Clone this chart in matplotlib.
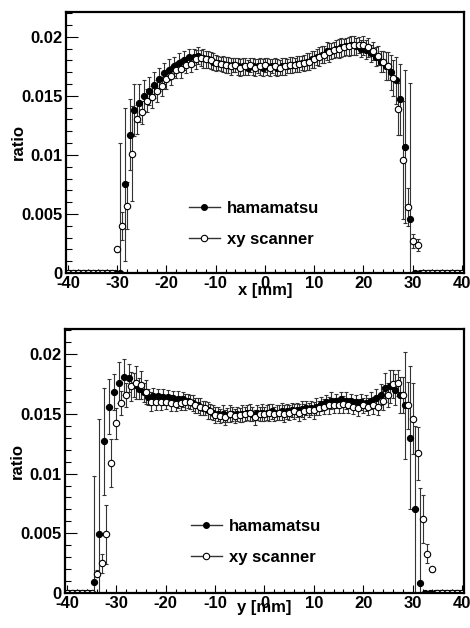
import matplotlib
matplotlib.use("Agg")
import matplotlib.pyplot as plt
from matplotlib.lines import Line2D
import numpy as np

plt.rcParams['font.family'] = ['Liberation Sans', 'DejaVu Sans']
plt.rcParams['font.weight'] = 'bold'
plt.rcParams['axes.labelweight'] = 'bold'

# bin positions [mm]
x_ham = np.arange(-39.5, 40.0, 1.0)   # 80 points
x_xy = np.arange(-40.0, 41.0, 1.0)    # 81 points

# ---- top panel: x scan ----
x_ham_val = [0.0] * 10 + [
    0.0000, 0.0075, 0.0117, 0.0138, 0.0144, 0.0150, 0.0154, 0.0159, 0.0164, 0.0169,
    0.0172, 0.0175, 0.0178, 0.0180, 0.0183, 0.0183, 0.0184, 0.0182, 0.0181, 0.0179,
    0.0178, 0.0177, 0.0176, 0.0176, 0.0175, 0.0175, 0.0174, 0.0175, 0.0175, 0.0174,
    0.0175, 0.0175, 0.0174, 0.0175, 0.0175, 0.0176, 0.0177, 0.0178, 0.0179, 0.0181,
    0.0183, 0.0185, 0.0188, 0.0188, 0.0190, 0.0191, 0.0192, 0.0193, 0.0192, 0.0190,
    0.0189, 0.0186, 0.0183, 0.0179, 0.0175, 0.0170, 0.0163, 0.0147, 0.0107, 0.0046,
] + [0.0] * 10
x_ham_err = [0.0] * 10 + [
    0.0110, 0.0065, 0.0030, 0.0022, 0.0016, 0.0013, 0.0012, 0.0011, 0.0010, 0.0009,
    0.0009, 0.0008, 0.0008, 0.0008, 0.0007, 0.0007, 0.0007, 0.0008, 0.0007, 0.0007,
    0.0006, 0.0007, 0.0007, 0.0006, 0.0007, 0.0007, 0.0006, 0.0007, 0.0006, 0.0007,
    0.0007, 0.0006, 0.0007, 0.0007, 0.0006, 0.0007, 0.0007, 0.0006, 0.0007, 0.0007,
    0.0007, 0.0007, 0.0008, 0.0007, 0.0007, 0.0008, 0.0007, 0.0008, 0.0007, 0.0007,
    0.0008, 0.0007, 0.0008, 0.0009, 0.0012, 0.0015, 0.0020, 0.0030, 0.0065, 0.0115,
] + [0.0] * 10

x_xy_val = [0.0] * 10 + [
    0.0020, 0.0040, 0.0057, 0.0101, 0.0130, 0.0136, 0.0146, 0.0149, 0.0154, 0.0158,
    0.0164, 0.0167, 0.0172, 0.0173, 0.0176, 0.0177, 0.0181, 0.0182, 0.0181, 0.0180,
    0.0178, 0.0177, 0.0176, 0.0175, 0.0176, 0.0174, 0.0175, 0.0176, 0.0174, 0.0175,
    0.0176, 0.0174, 0.0175, 0.0174, 0.0175, 0.0176, 0.0176, 0.0177, 0.0178, 0.0179,
    0.0181, 0.0183, 0.0185, 0.0187, 0.0189, 0.0190, 0.0191, 0.0192, 0.0193, 0.0193,
    0.0193, 0.0191, 0.0188, 0.0184, 0.0179, 0.0175, 0.0165, 0.0139, 0.0096, 0.0056,
    0.0027, 0.0024,
] + [0.0] * 9
x_xy_err = [0.0] * 10 + [
    0.0002, 0.0012, 0.0020, 0.0040, 0.0012, 0.0010, 0.0010, 0.0009, 0.0009, 0.0008,
    0.0008, 0.0008, 0.0007, 0.0008, 0.0007, 0.0007, 0.0008, 0.0007, 0.0007, 0.0007,
    0.0007, 0.0006, 0.0007, 0.0007, 0.0006, 0.0007, 0.0007, 0.0006, 0.0007, 0.0007,
    0.0006, 0.0007, 0.0007, 0.0006, 0.0007, 0.0007, 0.0006, 0.0007, 0.0007, 0.0007,
    0.0007, 0.0008, 0.0007, 0.0008, 0.0007, 0.0008, 0.0007, 0.0008, 0.0008, 0.0007,
    0.0008, 0.0008, 0.0008, 0.0008, 0.0009, 0.0012, 0.0015, 0.0022, 0.0050, 0.0016,
    0.0006, 0.0005,
] + [0.0] * 9

# ---- bottom panel: y scan ----
y_ham_val = [0.0] * 5 + [
    0.0009, 0.0049, 0.0127, 0.0156, 0.0168, 0.0176, 0.0181, 0.0180, 0.0174, 0.0171,
    0.0168, 0.0164, 0.0165, 0.0165, 0.0164, 0.0164, 0.0163, 0.0162, 0.0162, 0.0161,
    0.0159, 0.0157, 0.0155, 0.0153, 0.0151, 0.0150, 0.0150, 0.0149, 0.0150, 0.0150,
    0.0150, 0.0151, 0.0150, 0.0151, 0.0151, 0.0151, 0.0152, 0.0151, 0.0152, 0.0152,
    0.0153, 0.0153, 0.0154, 0.0155, 0.0155, 0.0156, 0.0158, 0.0160, 0.0161, 0.0161,
    0.0162, 0.0161, 0.0161, 0.0160, 0.0160, 0.0159, 0.0161, 0.0163, 0.0166, 0.0172,
    0.0173, 0.0170, 0.0166, 0.0157, 0.0130, 0.0070, 0.0008,
] + [0.0] * 8
y_ham_err = [0.0] * 5 + [
    0.0089, 0.0097, 0.0045, 0.0023, 0.0015, 0.0017, 0.0015, 0.0012, 0.0010, 0.0009,
    0.0008, 0.0007, 0.0007, 0.0006, 0.0007, 0.0006, 0.0006, 0.0007, 0.0006, 0.0006,
    0.0007, 0.0006, 0.0006, 0.0007, 0.0006, 0.0006, 0.0007, 0.0006, 0.0006, 0.0006,
    0.0007, 0.0006, 0.0006, 0.0006, 0.0007, 0.0006, 0.0006, 0.0006, 0.0007, 0.0006,
    0.0006, 0.0006, 0.0007, 0.0006, 0.0006, 0.0007, 0.0006, 0.0006, 0.0007, 0.0006,
    0.0006, 0.0007, 0.0006, 0.0006, 0.0007, 0.0007, 0.0007, 0.0008, 0.0009, 0.0012,
    0.0014, 0.0013, 0.0015, 0.0045, 0.0060, 0.0070, 0.0080,
] + [0.0] * 8

y_xy_val = [0.0] * 6 + [
    0.0016, 0.0025, 0.0049, 0.0109, 0.0142, 0.0159, 0.0166, 0.0173, 0.0176, 0.0174,
    0.0168, 0.0160, 0.0160, 0.0160, 0.0160, 0.0159, 0.0158, 0.0159, 0.0160, 0.0160,
    0.0157, 0.0156, 0.0155, 0.0152, 0.0149, 0.0148, 0.0147, 0.0150, 0.0148, 0.0149,
    0.0150, 0.0151, 0.0147, 0.0150, 0.0150, 0.0151, 0.0150, 0.0151, 0.0150, 0.0151,
    0.0152, 0.0151, 0.0152, 0.0153, 0.0153, 0.0155, 0.0156, 0.0157, 0.0157, 0.0157,
    0.0158, 0.0157, 0.0156, 0.0155, 0.0157, 0.0156, 0.0157, 0.0156, 0.0161, 0.0166,
    0.0175, 0.0176, 0.0166, 0.0157, 0.0146, 0.0117, 0.0062, 0.0033, 0.0020,
] + [0.0] * 6
y_xy_err = [0.0] * 6 + [
    0.0003, 0.0008, 0.0025, 0.0020, 0.0013, 0.0010, 0.0010, 0.0012, 0.0014, 0.0012,
    0.0010, 0.0008, 0.0007, 0.0007, 0.0006, 0.0007, 0.0006, 0.0006, 0.0007, 0.0006,
    0.0006, 0.0007, 0.0006, 0.0006, 0.0007, 0.0006, 0.0006, 0.0007, 0.0006, 0.0006,
    0.0006, 0.0007, 0.0006, 0.0006, 0.0006, 0.0007, 0.0006, 0.0006, 0.0007, 0.0006,
    0.0006, 0.0007, 0.0006, 0.0006, 0.0007, 0.0006, 0.0006, 0.0007, 0.0006, 0.0006,
    0.0007, 0.0006, 0.0006, 0.0007, 0.0006, 0.0007, 0.0007, 0.0007, 0.0008, 0.0010,
    0.0012, 0.0011, 0.0015, 0.0020, 0.0030, 0.0022, 0.0020, 0.0008, 0.0002,
] + [0.0] * 6

labels = ['hamamatsu', 'xy scanner']
x_ticks = [-40, -30, -20, -10, 0, 10, 20, 30, 40]
y_ticks = [0, 0.005, 0.01, 0.015, 0.02]
y_tick_labels = ['0', '0.005', '0.01', '0.015', '0.02']


def draw_panel(ax, ham_val, ham_err, xy_val, xy_err, xlabel, xlab_y, leg_xy):
    ax.errorbar(x_ham, ham_val, yerr=ham_err, fmt='o', ms=4.4, mfc='black', mec='black',
                mew=0.8, ecolor='#333333', elinewidth=0.8, capsize=1.3, capthick=0.8)
    ax.errorbar(x_xy, xy_val, yerr=xy_err, fmt='o', ms=4.6, mfc='white', mec='black',
                mew=0.8, ecolor='#333333', elinewidth=0.8, capsize=1.3, capthick=0.8)
    ax.set_xlim(-40.4, 40.4)
    ax.set_ylim(0, 0.0221)
    ax.set_xticks(x_ticks)
    ax.set_xticks(np.arange(-40, 41, 2), minor=True)
    ax.set_xticklabels([str(t) for t in x_ticks])
    ax.set_yticks(y_ticks)
    ax.set_yticks(np.arange(0, 0.0221, 0.001), minor=True)
    ax.set_yticklabels(y_tick_labels)
    ax.tick_params(which='both', direction='in', top=False, right=False, labelsize=12, width=0.8)
    ax.tick_params(axis='y', which='major', length=8.6, pad=2.5)
    ax.tick_params(axis='y', which='minor', length=4.3)
    ax.tick_params(axis='x', which='major', length=5.6, pad=2.5)
    ax.tick_params(axis='x', which='minor', length=2.8)
    for s in ax.spines.values():
        s.set_linewidth(1.6)
    ax.set_xlabel(xlabel, fontsize=12)
    ax.xaxis.set_label_coords(0.5, xlab_y)
    ax.set_ylabel('ratio', fontsize=12)
    ax.yaxis.set_label_coords(-0.1, 0.5)

    h1 = Line2D([], [], color='#333333', lw=1, marker='o', ms=4.0, mfc='black', mec='black')
    h2 = Line2D([], [], color='#333333', lw=1, marker='o', ms=4.6, mfc='white', mec='black', mew=0.8)
    ax.legend([h1, h2], labels, loc='center left', bbox_to_anchor=leg_xy, frameon=False,
              handlelength=1.85, handletextpad=0.45, labelspacing=0.95, borderpad=0,
              borderaxespad=0, prop=dict(weight='bold', size=12))


fig = plt.figure(figsize=(4.7, 6.28), dpi=100)
ax1 = fig.add_axes([0.1404, 0.5653, 0.8468, 0.4156])
ax2 = fig.add_axes([0.1383, 0.0557, 0.8489, 0.4204])

draw_panel(ax1, x_ham_val, x_ham_err, x_xy_val, x_xy_err, 'x [mm]', -0.04, (0.309, 0.188))
draw_panel(ax2, y_ham_val, y_ham_err, y_xy_val, y_xy_err, 'y [mm]', -0.028, (0.315, 0.193))

fig.savefig('out.png', dpi=100)
